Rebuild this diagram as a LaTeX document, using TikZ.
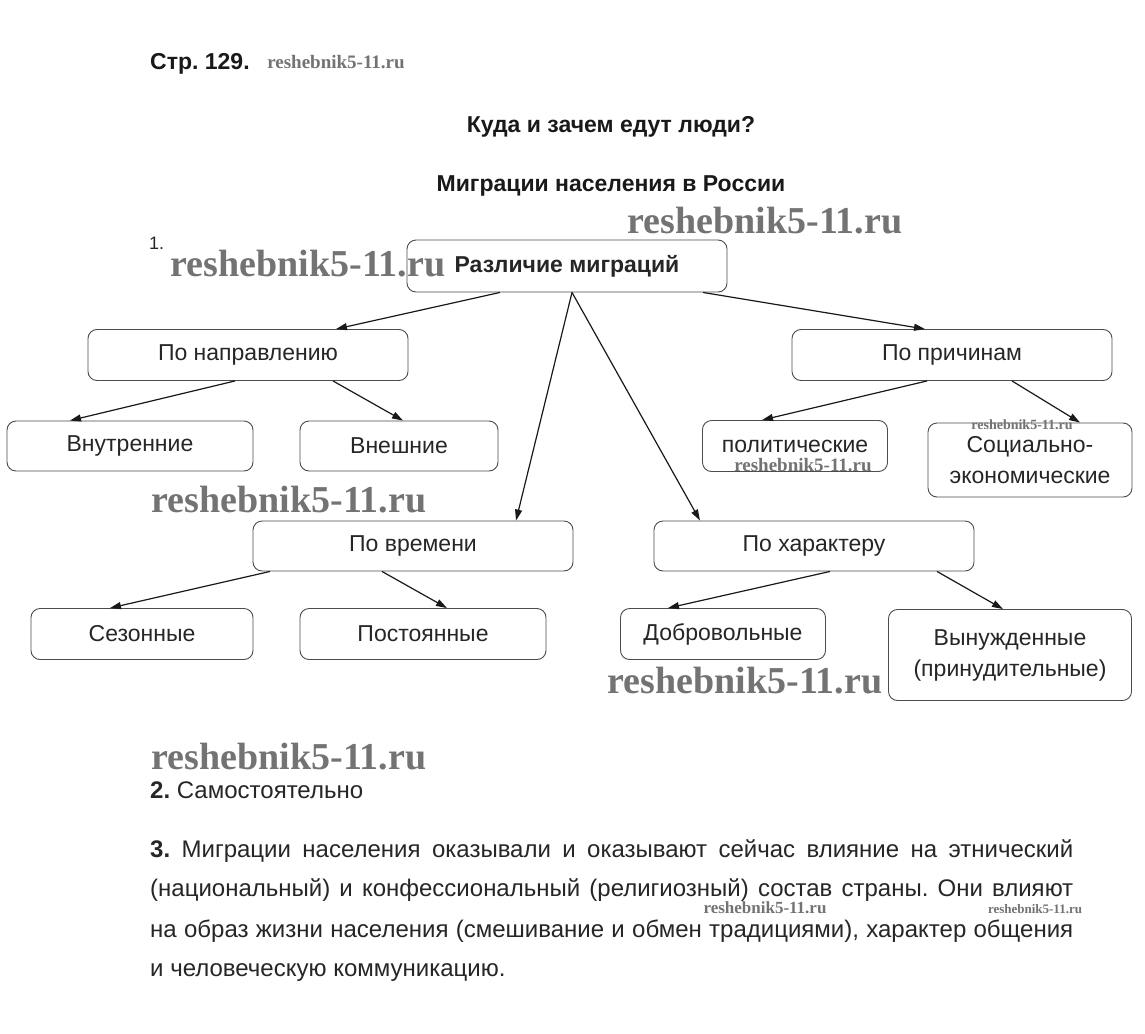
\documentclass[tikz,border=0pt]{standalone}
\usepackage{fontspec}
\setmainfont{Liberation Sans}
\newfontfamily\wmfont{Liberation Serif}
\usetikzlibrary{arrows.meta}
\frenchspacing

\begin{document}
\begin{tikzpicture}[x=1pt, y=-1pt,
        main/.style = {draw=black!70, line width=0.9pt, rounded corners=9pt, align=center, text=black!85, inner sep=0pt, font=\fontsize{23}{31}\selectfont},
        arr/.style = {line width=1.2pt, draw=black!90, -{Triangle[length=11pt,width=7pt]}},
        wm/.style = {text=black!55, inner sep=0pt, font=\wmfont\bfseries\fontsize{#1}{#1}\selectfont},
        wm/.default = 38,
        txt/.style = {text=black!85, inner sep=0pt, font=\fontsize{24}{28}\selectfont},
        head/.style = {text=black!90, inner sep=0pt, font=\bfseries\fontsize{23}{27}\selectfont}]
    \useasboundingbox[fill=white] (0,0) rectangle (1145,1033);

    % headings
    \node[head, anchor=base west] (t1) at (150,70) {Стр. 129.};
    \node[head, anchor=base] (t2) at (611,132) {Куда и зачем едут люди?};
    \node[head, anchor=base] (t3) at (611,191) {Миграции населения в России};
    \node[txt, anchor=west, font=\fontsize{18}{20}\selectfont] (t4) at (149,243) {1.};

    % boxes
    \node[main, minimum width=320pt, minimum height=52pt] (1) at (567,266) {\bfseries Различие миграций};
    \node[main, minimum width=320pt, minimum height=51pt] (2) at (248,355) {По направлению};
    \node[main, minimum width=320pt, minimum height=51pt] (3) at (952,355) {По причинам};
    \node[main, minimum width=320pt, minimum height=50pt] (4) at (413,546) {По времени};
    \node[main, minimum width=320pt, minimum height=50pt] (5) at (814,546) {По характеру};

    \node[main, minimum width=246pt, minimum height=50pt] (6) at (130,446) {Внутренние};
    \node[main, minimum width=198pt, minimum height=50pt] (7) at (399,446) {Внешние};
    \node[main, minimum width=185pt, minimum height=51pt] (8) at (795,446) {политические};
    \node[main, minimum width=204pt, minimum height=74pt] (9) at (1030,460) {Социально-\\экономические};
    \node[main, minimum width=222pt, minimum height=51pt] (10) at (142,634) {Сезонные};
    \node[main, minimum width=246pt, minimum height=51pt] (11) at (423,634) {Постоянные};
    \node[main, minimum width=205pt, minimum height=51pt] (12) at (723,634) {Добровольные};
    \node[main, minimum width=243pt, minimum height=91pt] (13) at (1010,655) {Вынужденные\\(принудительные)};

    \draw[arr] ([xshift=-67pt]1.south) -- ([xshift=88pt]2.north);
    \draw[arr] ([xshift=136pt]1.south) -- ([xshift=-27pt]3.north);
    \draw[arr] ([xshift=5pt]1.south) -- ([xshift=103pt]4.north);
    \draw[arr] ([xshift=5pt]1.south) -- ([xshift=-114pt]5.north);

    \draw[arr] ([xshift=-13pt]2.south) -- ([xshift=-60pt]6.north);
    \draw[arr] ([xshift=85pt]2.south) -- ([xshift=4pt]7.north);
    \draw[arr] ([xshift=-25pt]3.south) -- ([xshift=-33pt]8.north);
    \draw[arr] ([xshift=60pt]3.south) -- ([xshift=50pt]9.north);
    \draw[arr] ([xshift=-143pt]4.south) -- ([xshift=-32pt]10.north);
    \draw[arr] ([xshift=-31pt]4.south) -- ([xshift=24pt]11.north);
    \draw[arr] ([xshift=16pt]5.south) -- ([xshift=-55pt]12.north);
    \draw[arr] ([xshift=123pt]5.south) -- ([xshift=-7pt]13.north);

    % answers 2 and 3
    \node[txt, anchor=base west] (t5) at (150,798) {{\bfseries 2.} Самостоятельно};
    \node[txt, anchor=base west] (t6) at (150,857) {\hbox to 923pt{{\bfseries 3.} Миграции населения оказывали и оказывают сейчас влияние на этнический}};
    \node[txt, anchor=base west] (t7) at (150,896) {\hbox to 923pt{(национальный) и конфессиональный (религиозный) состав страны. Они влияют}};
    \node[txt, anchor=base west] (t8) at (150,937) {\hbox to 923pt{на образ жизни населения (смешивание и обмен традициями), характер общения}};
    \node[txt, anchor=base west] (t9) at (150,976) {и человеческую коммуникацию.};

    % watermarks
    \node[wm=19] (w1) at (336,62) {reshebnik5-11.ru};
    \node[wm] (w2) at (765,221) {reshebnik5-11.ru};
    \node[wm] (w3) at (308,264) {reshebnik5-11.ru};
    \node[wm=14] (w4) at (1022,425) {reshebnik5-11.ru};
    \node[wm=19] (w5) at (803,465) {reshebnik5-11.ru};
    \node[wm] (w6) at (289,500) {reshebnik5-11.ru};
    \node[wm] (w7) at (745,681) {reshebnik5-11.ru};
    \node[wm] (w8) at (289,757) {reshebnik5-11.ru};
    \node[wm=17] (w9) at (765,908) {reshebnik5-11.ru};
    \node[wm=13] (w10) at (1035,909) {reshebnik5-11.ru};
\end{tikzpicture}
\end{document}
